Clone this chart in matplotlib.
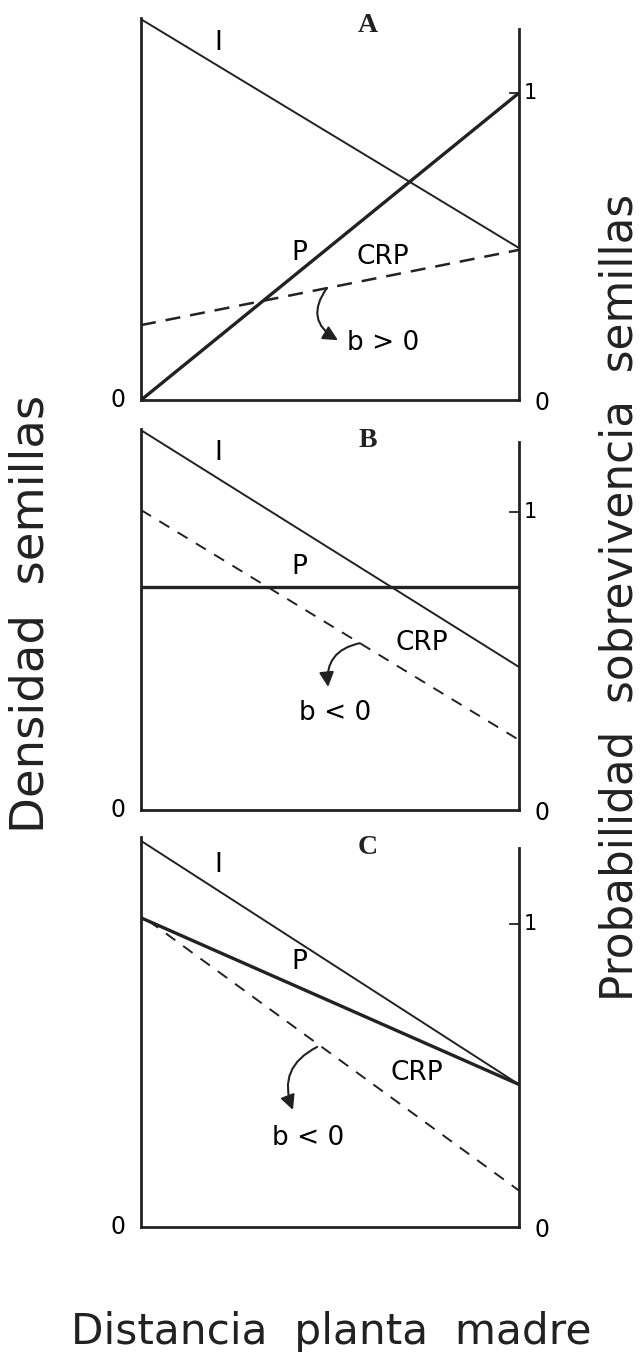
import matplotlib
matplotlib.use("Agg")
import matplotlib.pyplot as plt

# distance from mother plant (normalised), endpoints of each straight line
dist = [0.0, 1.0]

# panel A
a_I = [1.24, 0.495]
a_P = [0.0, 1.0]
a_CRP = [0.244, 0.489]
# panel B
b_I = [1.275, 0.48]
b_P = [0.748, 0.748]
b_CRP = [1.007, 0.235]
# panel C
c_I = [1.274, 0.47]
c_P = [1.02, 0.47]
c_CRP_x = [0.02, 1.0]
c_CRP = [1.01, 0.12]

panel_names = ["A", "B", "C"]
sign_labels = ["b > 0", "b < 0", "b < 0"]

SANS = "DejaVu Sans"

fig = plt.figure(figsize=(6.41, 13.52), dpi=100)

# [bottom, height, ylim top, right spine top] in figure fractions / data units
boxes = [
    (0.7041, 0.2826, 1.244, 1.208),
    (0.4009, 0.2818, 1.279, 1.235),
    (0.0925, 0.2885, 1.287, 1.251),
]

label_pos = [
    # I, letter, P, CRP, sign, arrow start, arrow end
    ((0.204, 1.163), (0.60, 1.221), (0.42, 0.479), (0.64, 0.466), (0.64, 0.186),
     (0.492, 0.365), (0.521, 0.195)),
    ((0.204, 1.198), (0.60, 1.242), (0.42, 0.815), (0.743, 0.56), (0.513, 0.326),
     (0.579, 0.56), (0.495, 0.413)),
    ((0.204, 1.195), (0.60, 1.251), (0.42, 0.875), (0.73, 0.508), (0.442, 0.294),
     (0.466, 0.594), (0.402, 0.386)),
]
arrow_rad = [0.55, 0.45, 0.45]

series = [
    (dist, a_I, dist, a_P, dist, a_CRP),
    (dist, b_I, dist, b_P, dist, b_CRP),
    (dist, c_I, dist, c_P, c_CRP_x, c_CRP),
]

for k, (bottom, height, ytop, rtop) in enumerate(boxes):
    ax = fig.add_axes([0.22, bottom, 0.5897, height])
    xi, yi, xp, yp, xc, yc = series[k]
    ax.plot(xi, yi, color="#222222", lw=1.4, solid_capstyle="butt")
    ax.plot(xp, yp, color="#222222", lw=2.4)
    ax.plot(xc, yc, color="#222222", lw=1.8 if k == 0 else 1.4,
            dashes=(6, 4) if k == 0 else (6, 5))
    ax.set_xlim(0, 1)
    ax.set_ylim(0, ytop)
    ax.spines["top"].set_visible(False)
    for s in ["left", "bottom", "right"]:
        ax.spines[s].set_linewidth(2.0)
        ax.spines[s].set_color("#222222")
    ax.spines["right"].set_bounds(0, rtop)
    ax.set_xticks([])
    ax.set_yticks([])
    ax.patch.set_alpha(0)

    li, lt, lp, lc, ls, a0, a1 = label_pos[k]
    ax.text(*li, "I", fontsize=19, family=SANS, ha="center", va="center")
    ax.text(*lt, panel_names[k], fontsize=20, family="Liberation Serif",
            weight="bold", ha="center", va="center", color="#222222")
    ax.text(*lp, "P", fontsize=19, family=SANS, ha="center", va="center")
    ax.text(*lc, "CRP", fontsize=19, family=SANS, ha="center", va="center")
    ax.text(*ls, sign_labels[k], fontsize=19, family=SANS, ha="center", va="center")
    ax.annotate("", xy=a1, xytext=a0,
                arrowprops=dict(arrowstyle="-|>", color="#222222", lw=1.5,
                                mutation_scale=22, shrinkA=0, shrinkB=0,
                                connectionstyle=f"arc3,rad={arrow_rad[k]}"))

    # axis end labels
    ax.text(-0.06, 0, "0", fontsize=17, family=SANS, ha="center", va="center",
            clip_on=False)
    ax.text(1.06, -0.01, "0", fontsize=17, family=SANS, ha="center", va="center",
            clip_on=False)
    ax.plot([0.975, 1.0], [1.0, 1.0], color="#222222", lw=1.3, clip_on=False)
    ax.text(1.03, 1.0, "1", fontsize=15, family=SANS, ha="center", va="center",
            clip_on=False)

fig.text(0.048, 0.546, "Densidad  semillas", rotation=90, fontsize=33.5,
         family=SANS, ha="center", va="center", color="#222222")
fig.text(0.967, 0.558, "Probabilidad  sobrevivencia  semillas", rotation=90,
         fontsize=31.5, family=SANS, ha="center", va="center", color="#222222")
fig.text(0.516, 0.0059, "Distancia  planta  madre", fontsize=30.4, family=SANS,
         ha="center", va="baseline", color="#222222")

fig.savefig("out.png", dpi=100, facecolor="white")
